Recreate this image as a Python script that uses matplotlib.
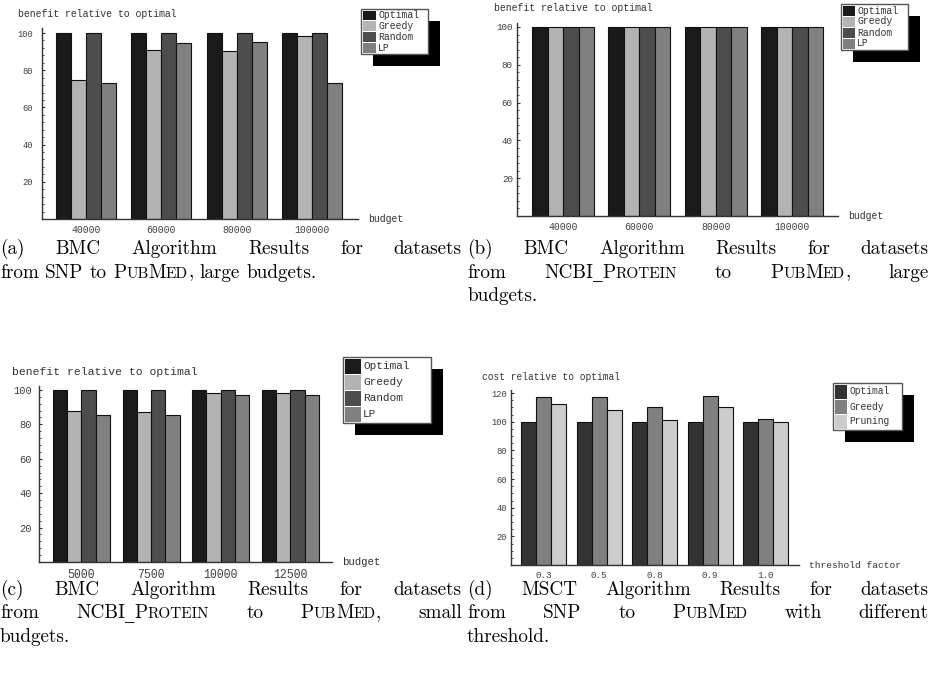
import numpy as np
import matplotlib.pyplot as plt
from matplotlib.patches import Rectangle
from matplotlib.ticker import FixedLocator, MultipleLocator
from matplotlib.font_manager import FontProperties, findfont
from matplotlib.ft2font import FT2Font

W, H = 930, 679

# ---- data ----
budgets_large = ["40000", "60000", "80000", "100000"]
budgets_small = ["5000", "7500", "10000", "12500"]
thresholds = ["0.3", "0.5", "0.8", "0.9", "1.0"]

bmc_names = ["Optimal", "Greedy", "Random", "LP"]
msct_names = ["Optimal", "Greedy", "Pruning"]

a_optimal = [100, 100, 100, 100]
a_greedy = [75, 91, 90.5, 98.5]
a_random = [100, 100, 100, 100]
a_lp = [73, 94.5, 95, 73]

b_optimal = [100, 100, 100, 100]
b_greedy = [100, 100, 100, 100]
b_random = [100, 100, 100, 100]
b_lp = [100, 100, 100, 100]

c_optimal = [100, 100, 100, 100]
c_greedy = [88, 87, 98, 98]
c_random = [100, 100, 100, 100]
c_lp = [85.5, 85.5, 97.3, 97.3]

d_optimal = [100, 100, 100, 100, 100]
d_greedy = [117, 117, 110.5, 118, 102]
d_pruning = [112, 108, 101.5, 110, 100]

bmc_colors = ["#1a1a1a", "#b3b3b3", "#4d4d4d", "#808080"]
msct_colors = ["#333333", "#808080", "#cccccc"]

plt.rcParams["font.family"] = "Liberation Mono"
fig = plt.figure(figsize=(W / 100, H / 100), dpi=100)


def px_axes(left, right, top, bottom):
    return fig.add_axes([left / W, 1 - bottom / H, (right - left) / W, (bottom - top) / H])


def bar_panel(ax, cats, series, colors, width, xlim, ymax, yticks, minor,
              yfs, xfs, ypad, xpad):
    x = np.arange(len(cats))
    n = len(series)
    for i, (vals, col) in enumerate(zip(series, colors)):
        ax.bar(x + (i - (n - 1) / 2) * width, vals, width, color=col,
               edgecolor="#111111", linewidth=0.8, zorder=2)
    ax.set_xlim(*xlim)
    ax.set_ylim(0, ymax)
    ax.patch.set_visible(False)
    for s in ["top", "right"]:
        ax.spines[s].set_visible(False)
    for s in ["left", "bottom"]:
        ax.spines[s].set_color("#333333")
        ax.spines[s].set_linewidth(1.0)
        ax.spines[s].set_zorder(3)
    ax.set_xticks(x)
    ax.set_xticklabels(cats)
    ax.tick_params(axis="x", length=0, pad=xpad, labelsize=xfs, labelcolor="#404040")
    ax.yaxis.set_major_locator(FixedLocator(yticks))
    ax.yaxis.set_minor_locator(MultipleLocator(minor))
    ax.tick_params(axis="y", which="major", direction="in", length=2.5, width=0.8,
                   color="#333333", pad=ypad, labelsize=yfs, labelcolor="#404040")
    ax.tick_params(axis="y", which="minor", direction="in", length=1.3, width=0.6,
                   color="#333333")


ax_a = px_axes(42, 358, 28, 219)
bar_panel(ax_a, budgets_large, [a_optimal, a_greedy, a_random, a_lp], bmc_colors,
          0.2, (-0.584, 3.61), 102.7, [20, 40, 60, 80, 100], 4, 6.3, 7, 6.5, 4.3)

ax_b = px_axes(517, 838, 23, 216)
bar_panel(ax_b, budgets_large, [b_optimal, b_greedy, b_random, b_lp], bmc_colors,
          0.203, (-0.603, 3.60), 102.1, [20, 40, 60, 80, 100], 4, 6.7, 7, 3, 4.3)

ax_c = px_axes(39, 332, 386, 562)
bar_panel(ax_c, budgets_small, [c_optimal, c_greedy, c_random, c_lp], bmc_colors,
          0.205, (-0.61, 3.60), 102.3, [20, 40, 60, 80, 100], 4, 7.5, 8.3, 5, 5)

ax_d = px_axes(511, 799, 390, 565)
bar_panel(ax_d, thresholds, [d_optimal, d_greedy, d_pruning], msct_colors,
          0.27, (-0.586, 4.6), 122.1, [20, 40, 60, 80, 100, 120], 5, 6.3, 6.7, 3, 4.3)

# overlay in pixel coordinates for labels, legends and captions
ov = fig.add_axes([0, 0, 1, 1])
ov.set_xlim(0, W)
ov.set_ylim(H, 0)
ov.axis("off")
ov.patch.set_alpha(0)

axis_labels = [
    (18, 14, "benefit relative to optimal", 7.1),
    (494, 8, "benefit relative to optimal", 7.1),
    (12, 372, "benefit relative to optimal", 8.2),
    (482, 377, "cost relative to optimal", 6.85),
    (368, 219, "budget", 7),
    (848, 216, "budget", 7),
    (342, 562, "budget", 7.7),
    (809, 565, "threshold factor", 6.8),
]
for x, y, s, fs in axis_labels:
    ov.text(x, y, s, fontsize=fs, ha="left", va="center", color="#333333")


def px_legend(x0, y0, x1, y1, names, colors, fs, sw, shadow=12):
    ov.add_patch(Rectangle((x0 + shadow, y0 + shadow), x1 - x0, y1 - y0,
                           facecolor="black", edgecolor="none", zorder=1))
    ov.add_patch(Rectangle((x0, y0), x1 - x0, y1 - y0, facecolor="white",
                           edgecolor="#555555", lw=1, zorder=2))
    rh = (y1 - y0 - 2) / len(names)
    for i, (nm, c) in enumerate(zip(names, colors)):
        ry = y0 + 1 + i * rh
        ov.add_patch(Rectangle((x0 + 1.5, ry + 0.5), sw, rh - 1, facecolor=c,
                               edgecolor="none", zorder=3))
        ov.text(x0 + sw + 4, ry + rh / 2, nm, fontsize=fs, ha="left", va="center",
                color="#333333", zorder=4)


px_legend(361, 9, 428, 54, bmc_names, bmc_colors, 7, 13)
px_legend(841, 4, 908, 50, bmc_names, bmc_colors, 7, 12)
px_legend(343, 357, 431, 423, bmc_names, bmc_colors, 8, 16)
px_legend(833, 383, 902, 430, msct_names, msct_colors, 6.9, 12)

# ---- captions (LaTeX-like, justified, small caps) ----
CAP_FS = 13.8
SC = 0.8
_fonts = {}


def ft(family):
    if family not in _fonts:
        _fonts[family] = FT2Font(findfont(FontProperties(family=family)))
    return _fonts[family]


def advance(txt, family, fs):
    f = ft(family)
    f.set_size(fs, 100)
    return sum(f.load_char(ord(c)).linearHoriAdvance for c in txt) / 65536


def word_segments(word):
    segs = []
    small = False
    for ch in word:
        if ch == "{":
            small = True
            continue
        if ch == "}":
            small = False
            continue
        if ch == "_":
            style = ("DejaVu Serif", 1.0)
        elif small and ch.islower():
            style = ("cmr10", SC)
            ch = ch.upper()
        else:
            style = ("cmr10", 1.0)
        if segs and segs[-1][1] == style:
            segs[-1][0] += ch
        else:
            segs.append([ch, style])
    return segs


def word_width(word, fs):
    return sum(advance(t, fam, fs * k) for t, (fam, k) in word_segments(word))


def put_word(x, y, word, fs):
    for t, (fam, k) in word_segments(word):
        ov.text(x, y, t, ha="left", va="baseline", color="black",
                fontsize=fs * k, family=fam)
        x += advance(t, fam, fs * k)


def caption_line(x0, x1, y, line, fs=CAP_FS, justify=True):
    words = line.split(" ")
    widths = [word_width(w, fs) for w in words]
    gap = fs * 100 / 72 * 0.333
    if justify and len(words) > 1:
        gap = max(gap * 0.8, (x1 - x0 - sum(widths)) / (len(words) - 1))
    x = x0
    for w, wd in zip(words, widths):
        put_word(x, y, w, fs)
        x += wd + gap


captions = [
    (0, 462, [254, 277.5], ["(a) BMC Algorithm Results for datasets",
                            "from SNP to {PubMed}, large budgets."]),
    (467, 929, [254, 277.5, 301], ["(b) BMC Algorithm Results for datasets",
                                   "from NCBI_{Protein} to {PubMed}, large",
                                   "budgets."]),
    (0, 462, [595, 618.5, 642], ["(c) BMC Algorithm Results for datasets",
                                 "from NCBI_{Protein} to {PubMed}, small",
                                 "budgets."]),
    (467, 929, [595, 618.5, 642], ["(d) MSCT Algorithm Results for datasets",
                                   "from SNP to {PubMed} with different",
                                   "threshold."]),
]
for x0, x1, ys, lines in captions:
    for k, (y, line) in enumerate(zip(ys, lines)):
        caption_line(x0, x1, y, line, justify=(k < len(lines) - 1))

fig.savefig("out.png", dpi=100)
